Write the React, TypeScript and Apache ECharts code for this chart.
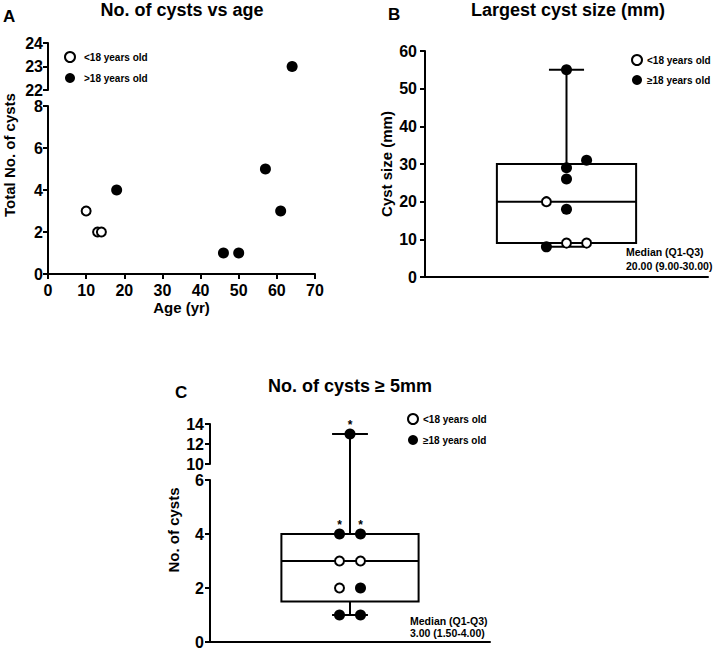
import React, { useEffect, useRef } from 'react';
import * as echarts from 'echarts';

const FONT = '"Liberation Sans", Arial, Helvetica, sans-serif';

// ---------- Panel A: No. of cysts vs age ----------
const ageUnder18 = [10, 13, 14];
const cystsUnder18 = [3, 2, 2];
const ageOver18 = [18, 46, 50, 57, 61, 64];
const cystsOver18 = [4, 1, 1, 5, 3, 23];
const ageTicks = [0, 70, 10];
const cystUpperTicks = [22, 24, 1];
const cystLowerTicks = [0, 8, 2];

// ---------- Panel B: Largest cyst size (mm) ----------
const sizeUnder18 = [20, 9, 9];
const sizeUnder18Col = [-1, 0, 1];
const sizeOver18 = [55, 29, 31, 26, 18, 8];
const sizeOver18Col = [0, 0, 1, 0, 0, -1];
const sizeBox = [8, 9, 20, 30, 55]; // min, Q1, median, Q3, max
const sizeTicks = [0, 60, 10];

// ---------- Panel C: No. of cysts >= 5mm ----------
const countUnder18 = [3, 3, 2];
const countUnder18Col = [-1, 1, -1];
const countOver18 = [13, 4, 4, 2, 1, 1];
const countOver18Col = [0, -1, 1, 1, -1, 1];
const countOver18Star = [true, true, true, false, false, false];
const countBox = [1, 1.5, 3, 4, 13];
const countUpperTicks = [10, 14, 2];
const countLowerTicks = [0, 6, 2];

const LEG_UNDER = '<18 years old';
const LEG_OVER_A = '>18 years old';
const LEG_OVER = '≥18 years old';

// layout
const A = { left: 48, width: 267, uTop: 43, uH: 47, lTop: 106, lH: 168 };
const B = { left: 425, top: 51, width: 283, height: 226 };
const C = { left: 210, width: 280, uTop: 424, uH: 40, lTop: 480, lH: 162 };

const BLACK = '#000';
const openStyle = { color: '#fff', borderColor: BLACK, borderWidth: 2, opacity: 1 };
const filledStyle = { color: BLACK, opacity: 1 };

const axisLine = { show: true, onZero: false, lineStyle: { color: BLACK, width: 2 } };
const axisTick = { show: true, length: 5, lineStyle: { color: BLACK, width: 2 } };
const lbl = (margin: number) => ({
  color: BLACK, fontSize: 16, fontWeight: 'bold', fontFamily: FONT, margin,
});

function yAx(gridIndex: number, t: number[], margin: number, extra: any = {}) {
  return {
    type: 'value', gridIndex, min: t[0], max: t[1], interval: t[2],
    axisLine, axisTick, axisLabel: lbl(margin), splitLine: { show: false }, ...extra,
  };
}
function hiddenX(gridIndex: number, min: number, max: number) {
  return { type: 'value', gridIndex, min, max, show: false, splitLine: { show: false } };
}
function baseX(gridIndex: number) {
  return {
    type: 'value', gridIndex, min: -5, max: 5,
    axisLine, axisTick: { show: false }, axisLabel: { show: false }, splitLine: { show: false },
  };
}

function makeBox(halfW: number, capW: number, mode: 'full' | 'lower' | 'upper', axisMin: number, axisMax: number, gap: number) {
  return (_params: any, api: any) => {
    const cx = api.value(0);
    const mn = api.value(1), q1 = api.value(2), md = api.value(3), q3 = api.value(4), mx = api.value(5);
    const P = (x: number, y: number) => api.coord([x, y]);
    const st = { stroke: BLACK, lineWidth: 2 };
    const line = (a: number[], b: number[]) => ({
      type: 'line', shape: { x1: a[0], y1: a[1], x2: b[0], y2: b[1] }, style: st,
    });
    const children: any[] = [];
    if (mode !== 'upper') {
      const tl = P(cx - halfW, q3), br = P(cx + halfW, q1);
      if (mx <= axisMax) {
        children.push(line(P(cx, q3), P(cx, mx)));
        children.push(line(P(cx - capW, mx), P(cx + capW, mx)));
      } else {
        const top = P(cx, axisMax);
        children.push(line(P(cx, q3), [top[0], top[1] - gap]));
      }
      children.push(line(P(cx, q1), P(cx, mn)));
      children.push(line(P(cx - capW, mn), P(cx + capW, mn)));
      children.push({
        type: 'rect',
        shape: { x: tl[0], y: tl[1], width: br[0] - tl[0], height: br[1] - tl[1] },
        style: { fill: 'none', stroke: BLACK, lineWidth: 2 },
      });
      children.push(line(P(cx - halfW, md), P(cx + halfW, md)));
    } else {
      children.push(line(P(cx, mx), P(cx, axisMin)));
      children.push(line(P(cx - capW, mx), P(cx + capW, mx)));
    }
    return { type: 'group', children };
  };
}

const B_SPREAD = 0.71;
const C_SPREAD = 0.375;

function pts(vals: number[], cols: number[], spread: number, keep: (v: number) => boolean, stars?: boolean[]) {
  const out: any[] = [];
  vals.forEach((v, i) => {
    if (!keep(v)) return;
    const item: any = { value: [cols[i] * spread, v] };
    if (stars && stars[i]) {
      item.label = {
        show: true, formatter: '*', position: 'top', distance: -2,
        color: BLACK, fontSize: 12, fontWeight: 'bold', fontFamily: FONT,
      };
    }
    out.push(item);
  });
  return out;
}

function txt(text: string, x: number, y: number, size: number, align = 'left', rotation = 0) {
  return {
    type: 'text', x, y, rotation,
    style: {
      text, fill: BLACK, fontSize: size, fontWeight: 'bold', fontFamily: FONT,
      align, verticalAlign: 'middle',
    },
  };
}

const legendCommon = {
  orient: 'vertical', itemWidth: 10, itemHeight: 10, selectedMode: false,
  icon: 'circle',
};
const legendData = (overName: string) => [
  { name: LEG_UNDER, itemStyle: openStyle },
  { name: overName, itemStyle: filledStyle },
];
const legendText = (padLeft: number) => ({
  color: BLACK, fontSize: 10, fontWeight: 'bold', fontFamily: FONT, padding: [0, 0, 0, padLeft],
});

const option: any = {
  animation: false,
  backgroundColor: '#fff',
  grid: [
    { left: A.left, top: A.uTop, width: A.width, height: A.uH, outerBoundsMode: 'none' },
    { left: A.left, top: A.lTop, width: A.width, height: A.lH, outerBoundsMode: 'none' },
    { left: B.left, top: B.top, width: B.width, height: B.height, outerBoundsMode: 'none' },
    { left: C.left, top: C.uTop, width: C.width, height: C.uH, outerBoundsMode: 'none' },
    { left: C.left, top: C.lTop, width: C.width, height: C.lH, outerBoundsMode: 'none' },
  ],
  xAxis: [
    hiddenX(0, ageTicks[0], ageTicks[1]),
    {
      type: 'value', gridIndex: 1, min: ageTicks[0], max: ageTicks[1], interval: ageTicks[2],
      axisLine, axisTick, axisLabel: lbl(8), splitLine: { show: false },
      name: 'Age (yr)', nameLocation: 'middle', nameGap: 26,
      nameTextStyle: { color: BLACK, fontSize: 15, fontWeight: 'bold', fontFamily: FONT },
    },
    baseX(2),
    hiddenX(3, -5, 5),
    baseX(4),
  ],
  yAxis: [
    yAx(0, cystUpperTicks, 5),
    yAx(1, cystLowerTicks, 5),
    yAx(2, sizeTicks, 8, {
      name: 'Cyst size (mm)', nameLocation: 'middle', nameGap: 31,
      nameTextStyle: { color: BLACK, fontSize: 15, fontWeight: 'bold', fontFamily: FONT },
    }),
    yAx(3, countUpperTicks, 6),
    yAx(4, countLowerTicks, 6),
  ],
  legend: [
    { ...legendCommon, left: 59, top: 46, itemGap: 10, data: legendData(LEG_OVER_A), textStyle: legendText(4) },
    { ...legendCommon, left: 626, top: 49, itemGap: 9, data: legendData(LEG_OVER), textStyle: legendText(0) },
    { ...legendCommon, left: 402, top: 408, itemGap: 10, data: legendData(LEG_OVER), textStyle: legendText(0) },
  ],
  graphic: [
    txt('A', 3, 16, 17),
    txt('B', 388, 14, 17),
    txt('C', 175, 392, 17),
    txt('No. of cysts vs age', 182, 10, 18, 'center'),
    txt('Largest cyst size (mm)', 568, 10, 18, 'center'),
    txt('No. of cysts ≥ 5mm', 350, 386, 18, 'center'),
    txt('Total No. of cysts', 9, 155, 15, 'center', Math.PI / 2),
    txt('No. of cysts', 173, 530, 15, 'center', Math.PI / 2),
    txt('Median (Q1-Q3)', 626, 252, 10.5),
    txt('20.00 (9.00-30.00)', 626, 266, 10.5),
    txt('Median (Q1-Q3)', 410, 621, 10.5),
    txt('3.00 (1.50-4.00)', 410, 633, 10.5),
  ],
  series: [
    // Panel A
    {
      type: 'scatter', name: LEG_UNDER, xAxisIndex: 1, yAxisIndex: 1, z: 3,
      symbolSize: 9, itemStyle: openStyle,
      data: ageUnder18.map((a, i) => [a, cystsUnder18[i]]),
    },
    {
      type: 'scatter', name: LEG_OVER_A, xAxisIndex: 1, yAxisIndex: 1, z: 3,
      symbolSize: 11, itemStyle: filledStyle,
      data: ageOver18.map((a, i) => [a, cystsOver18[i]]).filter((d) => d[1] <= cystLowerTicks[1]),
    },
    {
      type: 'scatter', name: LEG_OVER_A, xAxisIndex: 0, yAxisIndex: 0, z: 3,
      symbolSize: 11, itemStyle: filledStyle,
      data: ageOver18.map((a, i) => [a, cystsOver18[i]]).filter((d) => d[1] > cystLowerTicks[1]),
    },
    // Panel B
    {
      type: 'custom', xAxisIndex: 2, yAxisIndex: 2, z: 1,
      renderItem: makeBox(2.46, 0.62, 'full', sizeTicks[0], sizeTicks[1], 0),
      encode: { x: 0, y: [1, 2, 3, 4, 5] },
      data: [[0, ...sizeBox]],
    },
    {
      type: 'scatter', name: LEG_UNDER, xAxisIndex: 2, yAxisIndex: 2, z: 3,
      symbolSize: 9, itemStyle: openStyle,
      data: pts(sizeUnder18, sizeUnder18Col, B_SPREAD, () => true),
    },
    {
      type: 'scatter', name: LEG_OVER, xAxisIndex: 2, yAxisIndex: 2, z: 3,
      symbolSize: 11, itemStyle: filledStyle,
      data: pts(sizeOver18, sizeOver18Col, B_SPREAD, () => true),
    },
    // Panel C
    {
      type: 'custom', xAxisIndex: 4, yAxisIndex: 4, z: 1,
      renderItem: makeBox(2.45, 0.64, 'lower', countLowerTicks[0], countLowerTicks[1], C.lTop - (C.uTop + C.uH)),
      encode: { x: 0, y: [1, 2, 3, 4, 5] },
      data: [[0, ...countBox]],
    },
    {
      type: 'custom', xAxisIndex: 3, yAxisIndex: 3, z: 1,
      renderItem: makeBox(2.45, 0.64, 'upper', countUpperTicks[0], countUpperTicks[1], 0),
      encode: { x: 0, y: [5] },
      data: [[0, ...countBox]],
    },
    {
      type: 'scatter', name: LEG_UNDER, xAxisIndex: 4, yAxisIndex: 4, z: 3,
      symbolSize: 9, itemStyle: openStyle,
      data: pts(countUnder18, countUnder18Col, C_SPREAD, () => true),
    },
    {
      type: 'scatter', name: LEG_OVER, xAxisIndex: 4, yAxisIndex: 4, z: 3,
      symbolSize: 11, itemStyle: filledStyle,
      data: pts(countOver18, countOver18Col, C_SPREAD, (v) => v <= countLowerTicks[1], countOver18Star),
    },
    {
      type: 'scatter', name: LEG_OVER, xAxisIndex: 3, yAxisIndex: 3, z: 3,
      symbolSize: 11, itemStyle: filledStyle,
      data: pts(countOver18, countOver18Col, C_SPREAD, (v) => v > countLowerTicks[1], countOver18Star),
    },
  ],
};

export default function App() {
  const ref = useRef<HTMLDivElement>(null);
  useEffect(() => {
    document.body.style.margin = '0';
    const chart = echarts.init(ref.current as HTMLDivElement, null, { renderer: 'svg' });
    chart.setOption(option);
    return () => chart.dispose();
  }, []);
  return <div ref={ref} style={{ width: 714, height: 653 }} />;
}
